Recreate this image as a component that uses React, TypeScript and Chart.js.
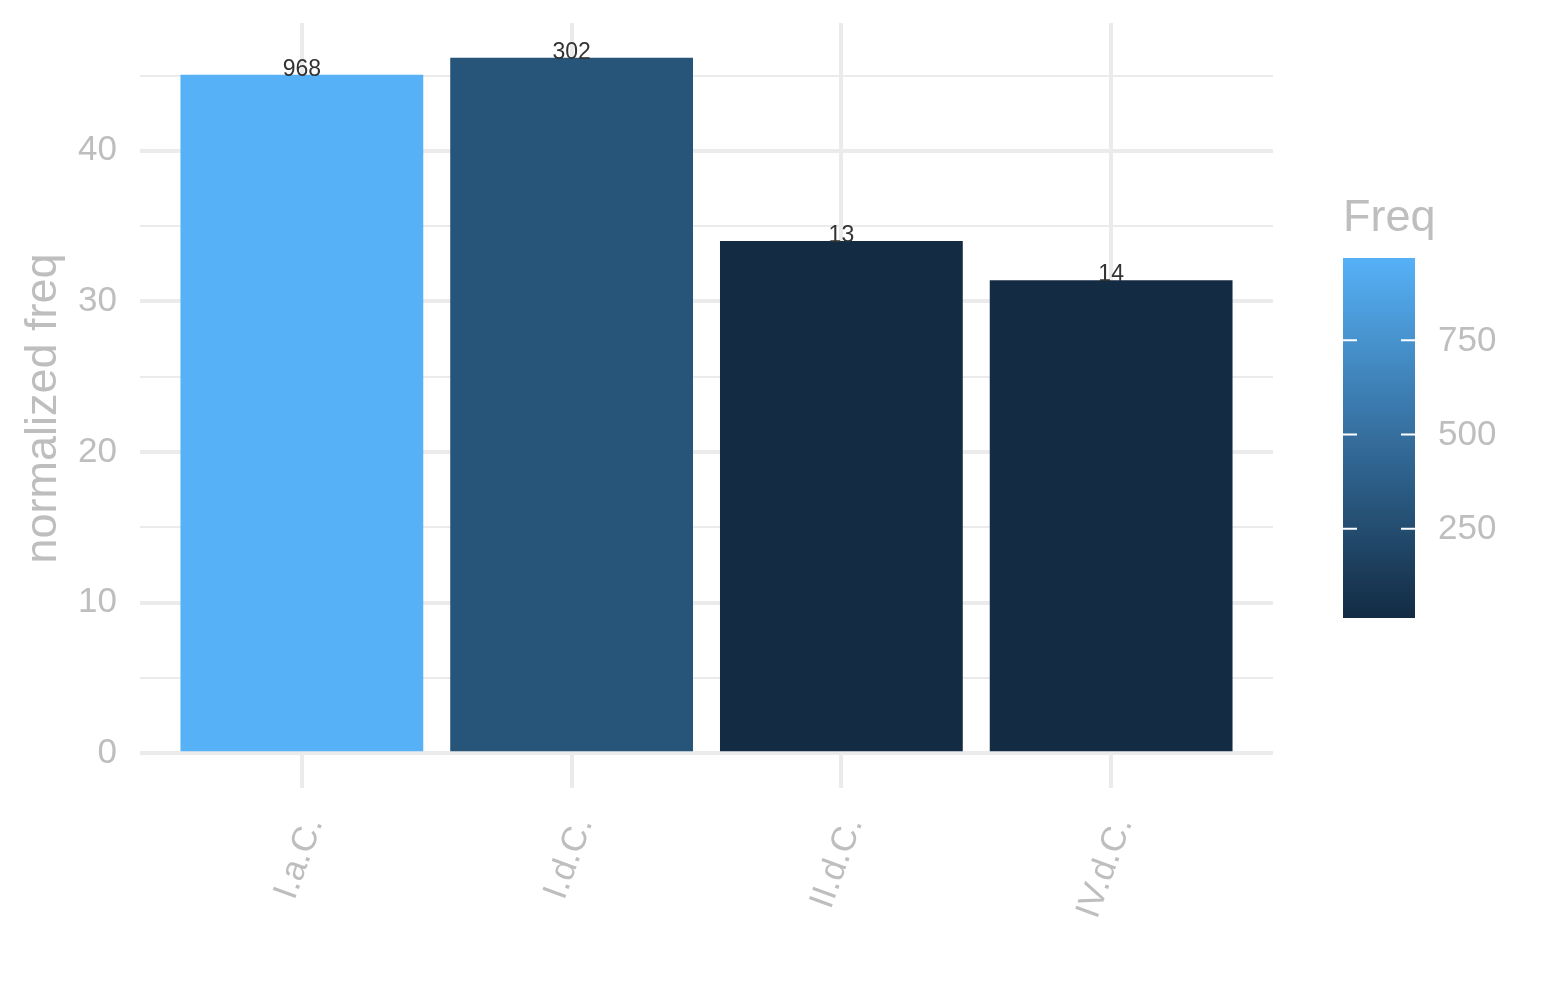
import React, { useEffect, useRef } from "react";
import { Chart, registerables } from "chart.js";

Chart.register(...registerables);

const categories = ["I.a.C.", "I.d.C.", "II.d.C.", "IV.d.C."];
const normFreq = [45.05, 46.18, 34.02, 31.4];
const freq = [968, 302, 13, 14];
const yMajorTicks = [0, 10, 20, 30, 40];
const yMinorTicks = [5, 15, 25, 35, 45];
const legendTicks = [250, 500, 750];
const legendTitle = "Freq";
const yTitle = "normalized freq";

const LOW = "#132B43";
const HIGH = "#56B1F7";
const GRAY = "#BEBEBE";
const GRID = "#EBEBEB";
const FONT = "'Liberation Sans', Arial, Helvetica, sans-serif";

function hexToRgb(h: string) {
  const n = parseInt(h.slice(1), 16);
  return [(n >> 16) & 255, (n >> 8) & 255, n & 255];
}
const fMin = Math.min(...freq);
const fMax = Math.max(...freq);
function colorFor(v: number) {
  const t = (v - fMin) / (fMax - fMin);
  const a = hexToRgb(LOW);
  const b = hexToRgb(HIGH);
  const c = a.map((x, i) => Math.round(x + (b[i] - x) * t));
  return `rgb(${c[0]},${c[1]},${c[2]})`;
}

export default function App() {
  const ref = useRef<HTMLCanvasElement | null>(null);
  useEffect(() => {
    if (!ref.current) return;
    const yMax = Math.max(...normFreq);
    const yLo = -0.05 * yMax;
    const yHi = 1.05 * yMax;

    const labelsPlugin = {
      id: "barLabels",
      afterDatasetsDraw(chart: any) {
        const ctx = chart.ctx;
        const meta = chart.getDatasetMeta(0);
        ctx.save();
        ctx.font = `23px ${FONT}`;
        ctx.fillStyle = "#333333";
        ctx.textAlign = "center";
        ctx.textBaseline = "alphabetic";
        meta.data.forEach((el: any, i: number) => {
          ctx.fillText(String(freq[i]), el.x, el.y + 1);
        });
        ctx.restore();
      },
    };

    const extrasPlugin = {
      id: "extras",
      afterDraw(chart: any) {
        const ctx = chart.ctx;
        const ca = chart.chartArea;
        ctx.save();
        ctx.font = `45px ${FONT}`;
        ctx.fillStyle = GRAY;
        ctx.textAlign = "center";
        ctx.textBaseline = "alphabetic";
        ctx.translate(56, (ca.top + ca.bottom) / 2 + 3);
        ctx.rotate(-Math.PI / 2);
        ctx.fillText(yTitle, 0, 0);
        ctx.restore();

        ctx.save();
        const x0 = ca.right + 70;
        const w = 72;
        const y0 = 258;
        const h = 360;
        ctx.font = `45px ${FONT}`;
        ctx.fillStyle = GRAY;
        ctx.textAlign = "left";
        ctx.textBaseline = "alphabetic";
        ctx.fillText(legendTitle, x0, 231);
        const g = ctx.createLinearGradient(0, y0, 0, y0 + h);
        const steps = 20;
        for (let s = 0; s <= steps; s++) {
          const v = fMax - ((fMax - fMin) * s) / steps;
          g.addColorStop(s / steps, colorFor(v));
        }
        ctx.fillStyle = g;
        ctx.fillRect(x0, y0, w, h);
        ctx.strokeStyle = "#FFFFFF";
        ctx.lineWidth = 2;
        ctx.font = `35px ${FONT}`;
        ctx.textBaseline = "middle";
        legendTicks.forEach((t) => {
          const y = y0 + (h * (fMax - t)) / (fMax - fMin);
          ctx.beginPath();
          ctx.moveTo(x0, y);
          ctx.lineTo(x0 + 14, y);
          ctx.moveTo(x0 + w - 14, y);
          ctx.lineTo(x0 + w, y);
          ctx.stroke();
          ctx.fillStyle = GRAY;
          ctx.fillText(String(t), x0 + w + 23, y + 1);
        });
        ctx.restore();
      },
    };

    const chart = new Chart(ref.current, {
      type: "bar",
      data: {
        datasets: [
          {
            data: categories.map((c, i) => ({ x: i + 1, y: normFreq[i] })),
            backgroundColor: freq.map((f) => colorFor(f)),
            barPercentage: 0.9,
            categoryPercentage: 1.0,
            borderWidth: 0,
          },
        ],
      },
      options: {
        responsive: false,
        animation: false,
        layout: { padding: { top: 23, right: 272, left: 0, bottom: 0 } },
        plugins: { legend: { display: false }, tooltip: { enabled: false } },
        scales: {
          x: {
            type: "linear",
            min: 0.4,
            max: 4.6,
            offset: false,
            afterBuildTicks: (s: any) => {
              s.ticks = categories.map((_, i) => ({ value: i + 1 }));
            },
            afterFit: (s: any) => {
              s.height = 212;
              s.paddingLeft = 0;
              s.paddingRight = 0;
            },
            ticks: {
              callback: (v: any) => categories[Number(v) - 1] ?? "",
              minRotation: 70,
              maxRotation: 70,
              autoSkip: false,
              font: { family: FONT, size: 35 },
              color: GRAY,
              padding: 24,
              labelOffset: 12,
            },
            grid: { color: GRID, lineWidth: 4, drawTicks: false, offset: false },
            border: { display: false },
          },
          y: {
            type: "linear",
            min: yLo,
            max: yHi,
            afterBuildTicks: (s: any) => {
              s.ticks = [...yMajorTicks, ...yMinorTicks]
                .sort((a, b) => a - b)
                .map((v) => ({ value: v }));
            },
            afterFit: (s: any) => {
              s.width = 140;
              s.paddingTop = 0;
              s.paddingBottom = 0;
            },
            ticks: {
              callback: (v: any) => (yMajorTicks.includes(Number(v)) ? String(v) : ""),
              font: { family: FONT, size: 35 },
              color: GRAY,
              padding: 23,
            },
            grid: {
              color: GRID,
              lineWidth: (c: any) => (yMajorTicks.includes(c.tick?.value) ? 4 : 2),
              drawTicks: false,
            },
            border: { display: false },
          },
        },
      },
      plugins: [labelsPlugin, extrasPlugin],
    } as any);
    return () => chart.destroy();
  }, []);

  return (
    <div style={{ position: "absolute", left: 0, top: 0, width: 1545, height: 1000, background: "#fff" }}>
      <canvas ref={ref} width={1545} height={1000} style={{ width: 1545, height: 1000 }} />
    </div>
  );
}
